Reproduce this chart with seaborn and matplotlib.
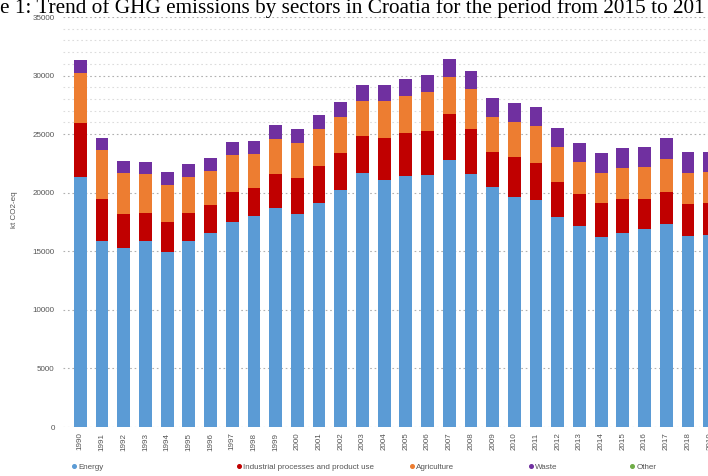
import numpy as np
import pandas as pd
import matplotlib
matplotlib.use("Agg")
import matplotlib.pyplot as plt
from matplotlib.lines import Line2D
import seaborn as sns

years = [str(y) for y in range(1990, 2020)]
energy = [21370, 15900, 15250, 15900, 14970, 15880, 16540, 17470, 18040, 18700,
          18160, 19150, 20230, 21660, 21090, 21450, 21480, 22790, 21600, 20460,
          19660, 19380, 17950, 17190, 16250, 16540, 16880, 17300, 16330, 16390]
industrial = [4610, 3530, 2930, 2390, 2560, 2420, 2390, 2610, 2390, 2900,
              3120, 3160, 3190, 3190, 3560, 3620, 3790, 3900, 3810, 3040,
              3360, 3180, 2940, 2700, 2850, 2900, 2590, 2780, 2680, 2710]
agriculture = [4270, 4210, 3530, 3300, 3160, 3070, 2950, 3130, 2900, 2960,
               2990, 3130, 3020, 3010, 3210, 3190, 3330, 3210, 3440, 2940,
               3040, 3130, 2990, 2710, 2610, 2650, 2710, 2770, 2650, 2700]
waste = [1080, 1000, 1020, 1050, 1080, 1060, 1060, 1110, 1110, 1200,
         1200, 1200, 1280, 1310, 1370, 1430, 1430, 1490, 1560, 1620,
         1620, 1650, 1680, 1670, 1660, 1760, 1760, 1790, 1800, 1710]
other = [0] * 30

series_names = ["Energy", "Industrial processes and product use", "Agriculture", "Waste", "Other"]
colors = ["#5B9BD5", "#C00000", "#ED7D31", "#7030A0", "#70AD47"]
y_ticks = [0, 5000, 10000, 15000, 20000, 25000, 30000, 35000]

sns.set_theme(style="white")
plt.rcParams["font.family"] = ["Liberation Sans", "DejaVu Sans"]

W, H = 708, 476
fig = plt.figure(figsize=(W / 100, H / 100), dpi=100)
ax = fig.add_axes([63 / W, 49 / H, 664 / W, 410 / H])

layers = [energy, industrial, agriculture, waste, other]
cum = np.cumsum(np.array(layers, dtype=float), axis=0)

# draw from the top cumulative downwards so lower segments overlay
for i in range(len(layers) - 1, -1, -1):
    sns.barplot(x=years, y=cum[i], color=colors[i], saturation=1, width=0.59,
                ax=ax, zorder=3, linewidth=0)

ax.set_xlim(-0.8, 29.8)
ax.set_ylim(0, 35000)
ax.set_yticks(y_ticks)
ax.set_yticklabels([str(v) for v in y_ticks])
minor = list(range(26000, 35000, 1000))
ax.set_yticks(minor, minor=True)
ax.grid(axis="y", which="major", linestyle=(0, (1.5, 2.5)), color="#b0b0b0", linewidth=0.8, zorder=0)
ax.grid(axis="y", which="minor", linestyle=(0, (1.5, 2.5)), color="#dcdcdc", linewidth=0.8, zorder=0)
ax.grid(axis="x", visible=False)
for s in ax.spines.values():
    s.set_visible(False)
ax.tick_params(axis="both", which="both", length=0, labelsize=5.8, colors="#555555")
ax.tick_params(axis="y", pad=6)
ax.tick_params(axis="x", pad=4)
plt.setp(ax.get_xticklabels(), rotation=90)
ax.set_xlabel("")
ax.set_ylabel("kt CO2-eq", fontsize=5.8, color="#555555", labelpad=8)
ax.yaxis.set_label_coords(-0.068, 0.53)

fig.text(0, 1 - 13 / H, "e 1: Trend of GHG emissions by sectors in Croatia for the period from 2015 to 201",
         family=["Liberation Serif", "DejaVu Serif"], fontsize=15.3, color="black",
         ha="left", va="baseline")

leg_x = [75, 240, 413, 532, 633]
for name, c, x in zip(series_names, colors, leg_x):
    h = Line2D([], [], marker="o", linestyle="none", color=c, markersize=2.6)
    lg = fig.legend(handles=[h], labels=[name], loc="center left",
                    bbox_to_anchor=((x - 4) / W, 9 / H), frameon=False,
                    fontsize=5.8, handletextpad=0.1, handlelength=0.8,
                    borderpad=0, borderaxespad=0)
    for t in lg.get_texts():
        t.set_color("#555555")

fig.savefig("out.png", dpi=100)
